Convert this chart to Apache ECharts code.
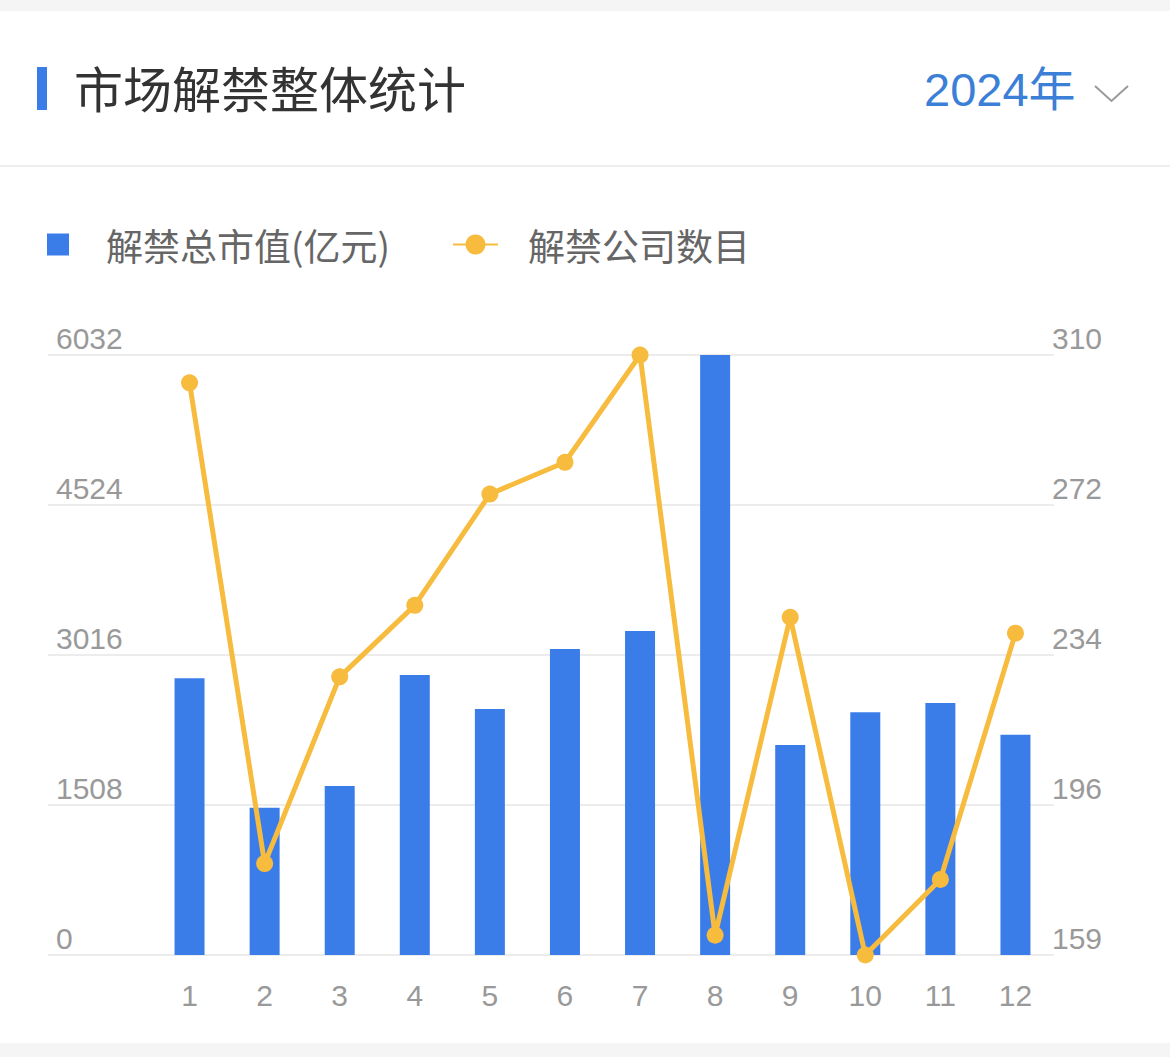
<!DOCTYPE html>
<html>
<head>
<meta charset="utf-8">
<script src="https://cdn.jsdelivr.net/npm/echarts@6/dist/echarts.min.js"></script>
<style>
html,body{margin:0;padding:0;background:#fff;}
#c{width:1170px;height:1057px;}
</style>
</head>
<body>
<div id="c"></div>
<script>
var months = ['1','2','3','4','5','6','7','8','9','10','11','12'];
var marketValue = [2782, 1481, 1699, 2815, 2473, 3076, 3257, 6032, 2111, 2440, 2533, 2215];
var companyCount = [303, 182, 229, 247, 275, 283, 310, 164, 244, 159, 178, 240];
var leftTicks = ['0', '1508', '3016', '4524', '6032'];
var rightTicks = ['159', '196', '234', '272', '310'];
var titleText = '市场解禁整体统计';
var yearText = '2024年';
var barName = '解禁总市值(亿元)';
var lineName = '解禁公司数目';

var chart = echarts.init(document.getElementById('c'), null, {renderer: 'svg'});
var latin = '"Liberation Sans", "Noto Sans CJK SC", sans-serif';
var cjk = '"Noto Sans CJK SC", "Liberation Sans", sans-serif';
var BLUE = '#3b7de8';
var YELLOW = '#f7bb3e';
var GRAY = '#999999';

var option = {
  backgroundColor: '#ffffff',
  animation: false,
  graphic: [
    {type: 'rect', shape: {x: 0, y: 0, width: 1170, height: 11}, style: {fill: '#f5f5f5'}, silent: true},
    {type: 'rect', shape: {x: 0, y: 1043, width: 1170, height: 14}, style: {fill: '#f5f5f5'}, silent: true},
    {type: 'rect', shape: {x: 0, y: 165, width: 1170, height: 2}, style: {fill: '#eeeeee'}, silent: true},
    {type: 'rect', shape: {x: 37, y: 67, width: 10, height: 43}, style: {fill: BLUE}, silent: true},
    {type: 'text', x: 74, y: 86, style: {text: titleText, fontSize: 49, fontFamily: cjk, fill: '#333333', align: 'left', verticalAlign: 'middle'}, silent: true},
    {type: 'text', x: 924, y: 89, style: {text: yearText, fontSize: 47, fontFamily: latin, fill: '#3b7fd6', align: 'left', verticalAlign: 'middle'}, silent: true},
    {type: 'polyline', shape: {points: [[1095, 86], [1111.5, 101], [1128, 86]]}, style: {stroke: '#9a9a9a', lineWidth: 2, fill: null}, silent: true}
  ],
  legend: [
    {
      data: [{name: barName, icon: 'rect'}],
      left: 47, top: 226, padding: 0,
      itemWidth: 22, itemHeight: 22,
      selectedMode: false,
      textStyle: {fontSize: 37, fontFamily: cjk, color: '#666666', padding: [0, 0, 0, 32]}
    },
    {
      data: [{name: lineName}],
      left: 452, top: 226, padding: 0,
      itemWidth: 45, itemHeight: 25,
      selectedMode: false,
      textStyle: {fontSize: 37, fontFamily: cjk, color: '#666666', padding: [0, 0, 0, 25]}
    }
  ],
  grid: [
    {left: 152, right: 117, top: 355, bottom: 102, containLabel: false, outerBoundsMode: 'none'},
    {left: 48, right: 116, top: 355, bottom: 102, containLabel: false, outerBoundsMode: 'none'}
  ],
  xAxis: [
    {
      type: 'category', gridIndex: 0, data: months,
      axisLine: {show: false}, axisTick: {show: false},
      axisLabel: {color: GRAY, fontSize: 30, fontFamily: latin, margin: 40, verticalAlign: 'middle', interval: 0},
      splitLine: {show: false}
    },
    {type: 'value', gridIndex: 1, min: 0, max: 1, show: false}
  ],
  yAxis: [
    {type: 'value', gridIndex: 0, min: 0, max: 6032, interval: 1508, show: false, splitLine: {show: false}},
    {type: 'value', gridIndex: 0, min: 159, max: 310, interval: 37.75, show: false, splitLine: {show: false}},
    {
      type: 'value', gridIndex: 1, position: 'left', min: 0, max: 6032, interval: 1508,
      axisLine: {show: false}, axisTick: {show: false},
      axisLabel: {
        inside: true, margin: 8, color: GRAY, fontSize: 30, fontFamily: latin,
        verticalAlign: 'bottom', lineHeight: 34,
        formatter: function (v, i) { return leftTicks[i]; }
      },
      splitLine: {show: true, lineStyle: {color: '#ececec', width: 2}}
    },
    {
      type: 'value', gridIndex: 1, position: 'right', min: 159, max: 310, interval: 37.75,
      axisLine: {show: false}, axisTick: {show: false},
      axisLabel: {
        margin: -2, color: GRAY, fontSize: 30, fontFamily: latin,
        verticalAlign: 'bottom', lineHeight: 34,
        formatter: function (v, i) { return rightTicks[i]; }
      },
      splitLine: {show: false}
    }
  ],
  series: [
    {
      name: barName, type: 'bar', xAxisIndex: 0, yAxisIndex: 0,
      data: marketValue, barWidth: 30,
      itemStyle: {color: BLUE}
    },
    {
      name: lineName, type: 'line', xAxisIndex: 0, yAxisIndex: 1,
      data: companyCount, symbol: 'circle', symbolSize: 17, showSymbol: true,
      clip: false,
      lineStyle: {color: YELLOW, width: 5},
      itemStyle: {color: YELLOW}
    }
  ]
};
chart.setOption(option);
</script>
</body>
</html>
